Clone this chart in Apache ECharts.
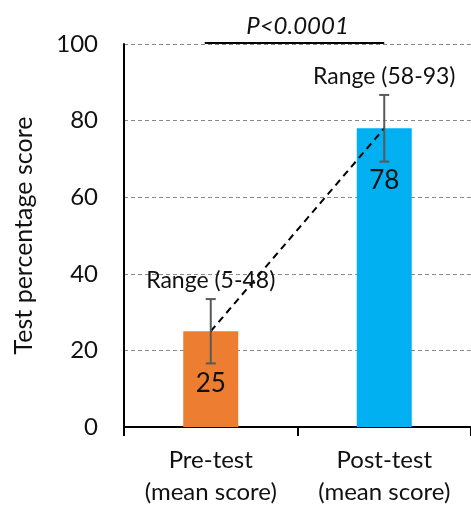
<!DOCTYPE html>
<html><head><meta charset="utf-8">
<script src="https://cdn.jsdelivr.net/npm/echarts@6/dist/echarts.min.js"></script>
<style>html,body{margin:0;padding:0;background:#fff}#c{width:471px;height:508px}</style>
</head><body><div id="c"></div>
<script>
const categories = ['Pre-test\n(mean score)', 'Post-test\n(mean score)'];
const means = [25, 78];
const errLow = [16.6, 69.3];
const errHigh = [33.4, 86.7];
const rangeLabels = ['Range (5-48)', 'Range (58-93)'];
const barColors = ['#ED7D31', '#00B0F0'];
const pText = 'P<0.0001';
const yTicks = [0, 20, 40, 60, 80, 100];

const FONT = 'Lato';
const chart = echarts.init(document.getElementById('c'), null, {renderer: 'canvas'});
chart.setOption({
  animation: false,
  grid: {left: 124, right: 0, top: 44, bottom: 76},
  xAxis: {
    type: 'category', data: categories,
    axisLine: {lineStyle: {color: '#000', width: 2}},
    axisTick: {show: true, length: 9, lineStyle: {color: '#000', width: 2}},
    axisLabel: {color: '#111', fontSize: 24, fontFamily: FONT, lineHeight: 32, margin: 17}
  },
  yAxis: {
    type: 'value', min: yTicks[0], max: yTicks[yTicks.length - 1], interval: 20,
    name: 'Test percentage score', nameLocation: 'middle', nameGap: 88,
    nameTextStyle: {color: '#111', fontSize: 25, fontFamily: FONT},
    axisLine: {show: true, lineStyle: {color: '#000', width: 2}},
    axisTick: {show: false},
    axisLabel: {color: '#111', fontSize: 24, fontFamily: FONT, margin: 26},
    splitLine: {lineStyle: {color: '#888', type: [4, 3], width: 1}}
  },
  series: [
    {
      type: 'bar', barWidth: 55, z: 2,
      data: means.map((v, i) => ({value: v, itemStyle: {color: barColors[i]}})),
      label: {show: true, position: 'insideTop', distance: 39, color: '#111',
        fontSize: 26, fontFamily: FONT}
    },
    {
      type: 'line', data: means, z: 3, symbol: 'none', silent: true,
      lineStyle: {color: '#000', width: 2, type: [7, 5]}
    },
    {
      type: 'custom', z: 4, clip: false,
      data: means.map((m, i) => [i, errLow[i], errHigh[i]]),
      renderItem: function (params, api) {
        const x = api.value(0);
        const lo = api.coord([x, api.value(1)]);
        const hi = api.coord([x, api.value(2)]);
        const hw = 5;
        const st = {stroke: '#595959', lineWidth: 2};
        return {type: 'group', children: [
          {type: 'line', shape: {x1: lo[0], y1: lo[1], x2: hi[0], y2: hi[1]}, style: st},
          {type: 'line', shape: {x1: lo[0] - hw, y1: lo[1], x2: lo[0] + hw, y2: lo[1]}, style: st},
          {type: 'line', shape: {x1: hi[0] - hw, y1: hi[1], x2: hi[0] + hw, y2: hi[1]}, style: st},
          {type: 'text', style: {x: hi[0], y: hi[1] - 7, text: rangeLabels[params.dataIndex],
            textAlign: 'center', textVerticalAlign: 'bottom', fill: '#111', fontSize: 23, fontFamily: FONT}}
        ]};
      }
    },
    {
      type: 'custom', z: 5, clip: false,
      data: [[0, 1, 100]],
      renderItem: function (params, api) {
        const a = api.coord([api.value(0), api.value(2)]);
        const b = api.coord([api.value(1), api.value(2)]);
        const y = a[1] - 1;
        return {type: 'group', children: [
          {type: 'line', shape: {x1: a[0] - 6, y1: y, x2: b[0], y2: y}, style: {stroke: '#000', lineWidth: 2}},
          {type: 'text', style: {x: (a[0] + b[0]) / 2, y: y - 5, text: pText, textAlign: 'center',
            textVerticalAlign: 'bottom', fill: '#111', fontSize: 24, fontStyle: 'italic', fontFamily: FONT}}
        ]};
      }
    }
  ]
});
</script></body></html>
